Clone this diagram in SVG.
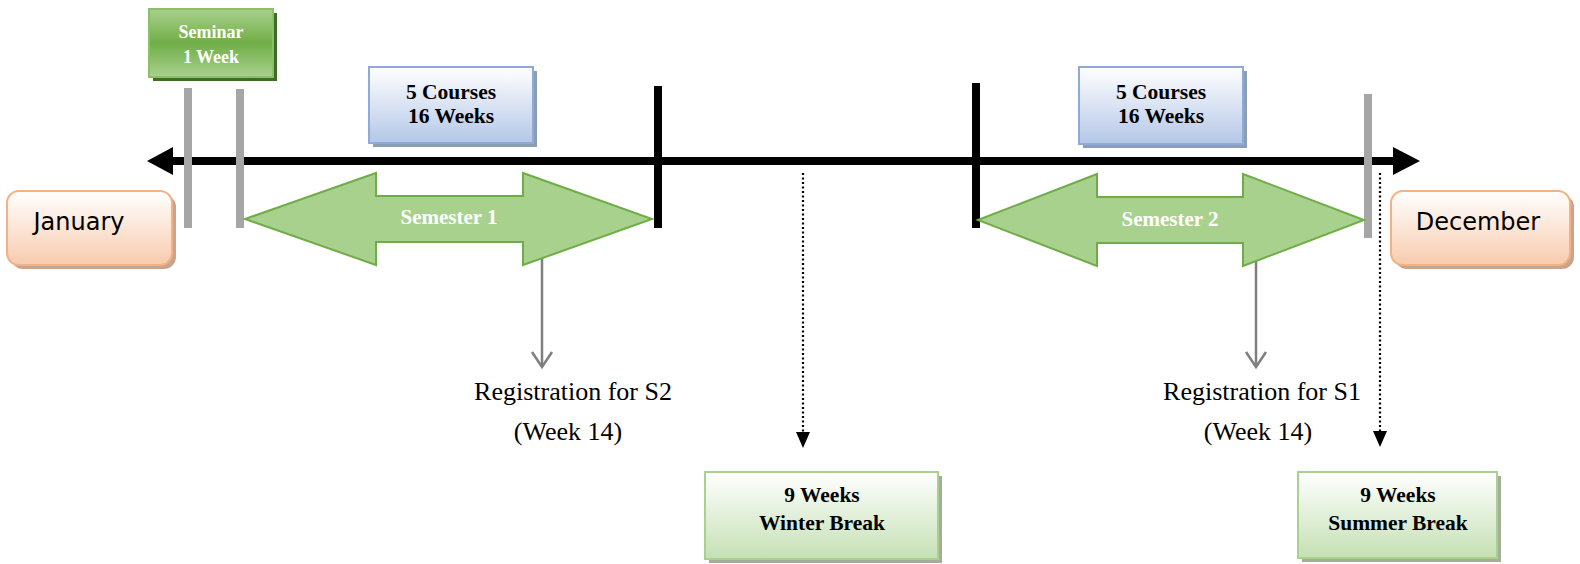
<svg xmlns="http://www.w3.org/2000/svg" width="1580" height="564" viewBox="0 0 1580 564">
  <defs>
    <linearGradient id="gSeminar" x1="0" y1="0" x2="0" y2="1">
      <stop offset="0" stop-color="#a9d18e"/>
      <stop offset="0.5" stop-color="#70ad47"/>
      <stop offset="1" stop-color="#a9d18e"/>
    </linearGradient>
    <linearGradient id="gBlue" x1="0" y1="0" x2="0" y2="1">
      <stop offset="0" stop-color="#ffffff"/>
      <stop offset="1" stop-color="#b4c7e7"/>
    </linearGradient>
    <linearGradient id="gOrange" x1="0" y1="0" x2="0" y2="1">
      <stop offset="0" stop-color="#ffffff"/>
      <stop offset="1" stop-color="#f8cbad"/>
    </linearGradient>
    <linearGradient id="gGreen" x1="0" y1="0" x2="0" y2="1">
      <stop offset="0" stop-color="#ffffff"/>
      <stop offset="1" stop-color="#c5e0b4"/>
    </linearGradient>
    <style>
      .box-text { font-family: "Liberation Serif", "Times New Roman", serif; font-weight: bold; font-size: 21.5px; fill: #000; text-anchor: middle; }
      .white-text { font-family: "Liberation Serif", "Times New Roman", serif; font-weight: bold; fill: #fff; text-anchor: middle; }
      .month-text { font-family: "DejaVu Sans", Verdana, sans-serif; font-size: 24px; fill: #000; text-anchor: middle; }
      .note-text { font-family: "Liberation Serif", "Times New Roman", serif; font-size: 26px; fill: #000; text-anchor: middle; }
      .gray-bar { fill: #a6a6a6; }
      .black-bar { fill: #000; }
      .semester { fill: #a9d18e; stroke: #70ad47; stroke-width: 2; }
      .dotted { stroke: #000; stroke-width: 2.2; stroke-dasharray: 2 2.5; fill: none; }
      .reg-line { stroke: #7f7f7f; stroke-width: 2.5; fill: none; }
    </style>
  </defs>

  <!-- main timeline -->
  <g id="timeline">
    <line x1="170" y1="161" x2="1396" y2="161" stroke="#000" stroke-width="8"/>
    <polygon points="147,161 173,147 173,175" fill="#000"/>
    <polygon points="1420,161 1393,147 1393,175" fill="#000"/>
  </g>

  <!-- connectors -->
  <g id="connectors">
    <path class="reg-line" d="M542,250 V367"/>
    <path class="reg-line" d="M532,352 L542,367 L552,352"/>
    <path class="reg-line" d="M1256,255 V367"/>
    <path class="reg-line" d="M1246,352 L1256,367 L1266,352"/>
    <line class="dotted" x1="803" y1="173" x2="803" y2="434"/>
    <polygon points="796,432 810,432 803,448" fill="#000"/>
    <line class="dotted" x1="1380" y1="173" x2="1380" y2="433"/>
    <polygon points="1373,431 1387,431 1380,447" fill="#000"/>
  </g>

  <!-- markers on the timeline -->
  <g id="markers">
    <rect class="gray-bar" x="184" y="88" width="8" height="140"/>
    <rect class="gray-bar" x="236" y="89" width="8" height="139"/>
    <rect class="black-bar" x="654" y="86" width="8" height="142"/>
    <rect class="black-bar" x="972" y="83" width="8" height="145"/>
    <rect class="gray-bar" x="1364" y="94" width="8" height="144"/>
  </g>

  <!-- seminar -->
  <g id="seminar">
    <rect x="153" y="13" width="124" height="68" fill="#3f6a28"/>
    <rect x="149" y="9" width="124" height="68" fill="url(#gSeminar)" stroke="#8cc068" stroke-width="2"/>
    <text class="white-text" x="211" y="38" font-size="18">Seminar</text>
    <text class="white-text" x="211" y="63" font-size="18">1 Week</text>
  </g>

  <!-- course blocks -->
  <g id="courses-1">
    <rect x="373" y="71" width="164" height="76" fill="#8c9db6"/>
    <rect x="369" y="67" width="164" height="76" fill="url(#gBlue)" stroke="#8eaadb" stroke-width="2"/>
    <text class="box-text" x="451" y="99">5 Courses</text>
    <text class="box-text" x="451" y="123">16 Weeks</text>
  </g>
  <g id="courses-2">
    <rect x="1083" y="71" width="164" height="77" fill="#8c9db6"/>
    <rect x="1079" y="67" width="164" height="77" fill="url(#gBlue)" stroke="#8eaadb" stroke-width="2"/>
    <text class="box-text" x="1161" y="99">5 Courses</text>
    <text class="box-text" x="1161" y="123">16 Weeks</text>
  </g>

  <!-- months -->
  <g id="january">
    <rect x="11" y="195" width="165" height="74" rx="12" fill="#c9a38d"/>
    <rect x="7" y="191" width="165" height="74" rx="12" fill="url(#gOrange)" stroke="#f4b183" stroke-width="2"/>
    <text class="month-text" x="79" y="230">January</text>
  </g>
  <g id="december">
    <rect x="1395" y="195" width="179" height="74" rx="12" fill="#c9a38d"/>
    <rect x="1391" y="191" width="179" height="74" rx="12" fill="url(#gOrange)" stroke="#f4b183" stroke-width="2"/>
    <text class="month-text" x="1478" y="230">December</text>
  </g>

  <!-- semesters -->
  <g id="semester-1">
    <polygon class="semester" points="245,219 376,173 376,196 523,196 523,173 652,219 523,265 523,242 376,242 376,265"/>
    <text class="white-text" x="449" y="224" font-size="21">Semester 1</text>
  </g>
  <g id="semester-2">
    <polygon class="semester" points="978,220 1097,174 1097,197 1243,197 1243,174 1364,220 1243,266 1243,243 1097,243 1097,266"/>
    <text class="white-text" x="1170" y="226" font-size="21">Semester 2</text>
  </g>

  <!-- registration notes -->
  <g id="registration-s2">
    <text class="note-text" x="573" y="400">Registration for S2</text>
    <text class="note-text" x="568" y="440">(Week 14)</text>
  </g>
  <g id="registration-s1">
    <text class="note-text" x="1262" y="400">Registration for S1</text>
    <text class="note-text" x="1258" y="440">(Week 14)</text>
  </g>

  <!-- breaks -->
  <g id="winter-break">
    <rect x="709" y="476" width="233" height="87" fill="#a3ad99"/>
    <rect x="705" y="472" width="233" height="87" fill="url(#gGreen)" stroke="#a9d18e" stroke-width="2"/>
    <text class="box-text" x="822" y="502">9 Weeks</text>
    <text class="box-text" x="822" y="530">Winter Break</text>
  </g>
  <g id="summer-break">
    <rect x="1302" y="476" width="199" height="86" fill="#a3ad99"/>
    <rect x="1298" y="472" width="199" height="86" fill="url(#gGreen)" stroke="#a9d18e" stroke-width="2"/>
    <text class="box-text" x="1398" y="502">9 Weeks</text>
    <text class="box-text" x="1398" y="530">Summer Break</text>
  </g>
</svg>
